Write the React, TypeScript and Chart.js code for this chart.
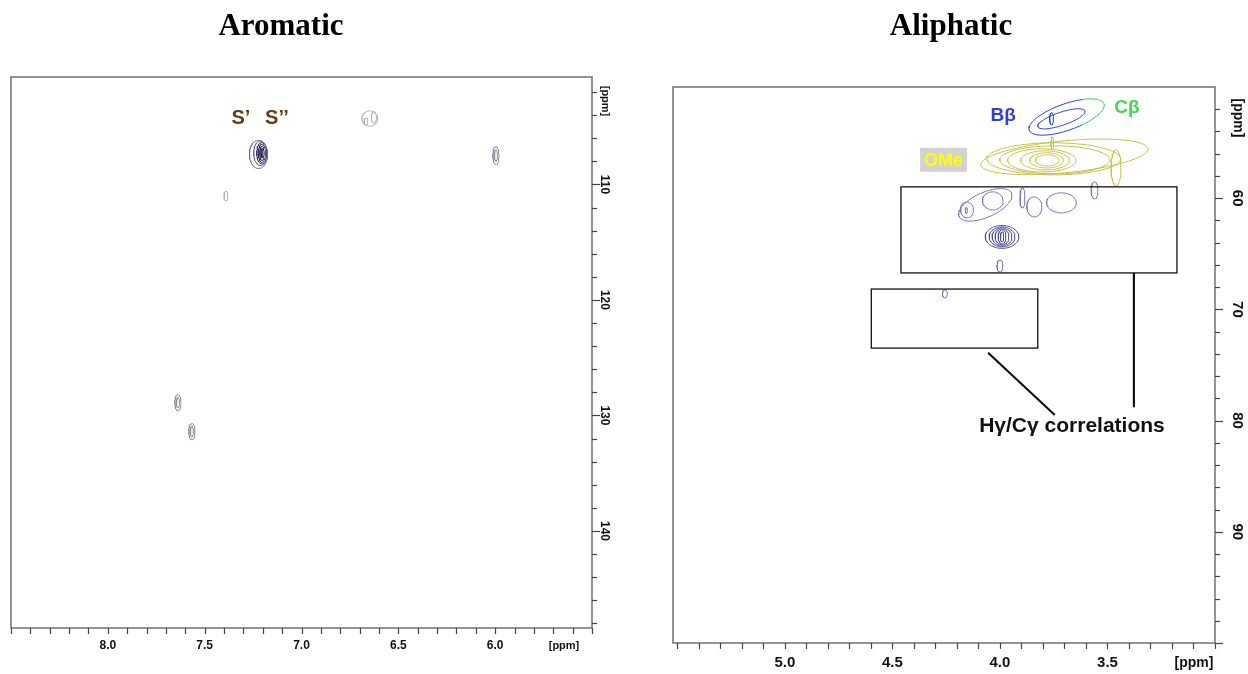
import React, { useEffect, useRef } from "react";
import { Chart, registerables } from "chart.js";

Chart.register(...registerables);

// A contour ring: [δH centre, δC centre, δH half-width, δC half-width, tilt (δC per δH)]
type Ring = [number, number, number, number, number];

// ---------- Aromatic region (δH 8.5–5.5, δC 100.7–148.4) ----------
const aromaticXRange = [5.5, 8.5];
const aromaticYRange = [100.7, 148.4];
const aromaticXLabels = [8.0, 7.5, 7.0, 6.5, 6.0];
const aromaticYLabels = [110, 120, 130, 140];

const syringylOuter: Ring[] = [
  [7.222, 107.4, 0.047, 1.22, 0],
  [7.212, 107.3, 0.035, 1.06, 0],
];
const syringylInner: Ring[] = [
  [7.205, 107.3, 0.026, 0.93, 0],
  [7.204, 107.3, 0.018, 0.79, 0],
  [7.204, 107.3, 0.011, 0.62, 0],
  [7.204, 107.3, 0.005, 0.4, 0],
];
const faintAromatic: Ring[] = [
  [6.647, 104.3, 0.041, 0.66, 0],
  [6.626, 104.2, 0.013, 0.5, 0],
  [6.667, 104.55, 0.01, 0.3, 0],
  [7.39, 111.0, 0.01, 0.43, 0],
];
const weakAromatic: Ring[] = [
  [5.996, 107.5, 0.016, 0.78, 0],
  [5.996, 107.5, 0.008, 0.5, 0],
  [7.638, 128.9, 0.016, 0.7, 0],
  [7.638, 128.9, 0.008, 0.45, 0],
  [7.566, 131.4, 0.016, 0.7, 0],
  [7.566, 131.4, 0.008, 0.45, 0],
];
const aromaticTags = [
  { text: "S\u2019", x: 7.313, y: 104.29 },
  { text: "S\u2019\u2019", x: 7.127, y: 104.29 },
];

// ---------- Aliphatic region (δH 5.52–3.0, δC 50–100) ----------
const aliphaticXRange = [3.0, 5.52];
const aliphaticYRange = [50, 100];
const aliphaticXLabels = [5.0, 4.5, 4.0, 3.5];
const aliphaticYLabels = [60, 70, 80, 90];

const betaOuter: Ring = [3.69, 52.7, 0.175, 1.25, 6.0];
const betaInner: Ring[] = [
  [3.714, 52.86, 0.11, 0.62, 6.0],
  [3.76, 52.86, 0.009, 0.54, 0],
];
const cBetaLimit = 3.63; // δH below which the β contour belongs to Cβ
const methoxyRings: Ring[] = [
  [3.7, 56.28, 0.389, 1.44, 1.8],
  [3.75, 56.46, 0.311, 1.44, 0],
  [3.745, 56.55, 0.256, 1.26, 0],
  [3.805, 56.6, 0.159, 1.04, 0],
  [3.79, 56.6, 0.113, 0.86, 0],
  [3.783, 56.6, 0.078, 0.68, 0],
  [3.78, 56.6, 0.055, 0.5, 0],
  [3.46, 57.27, 0.023, 1.62, 0],
  [3.757, 55.07, 0.006, 0.58, 0],
];
const gammaRings: Ring[] = [
  [4.068, 60.6, 0.124, 1.2, 6.75],
  [4.033, 60.24, 0.048, 0.81, 0],
  [4.153, 61.05, 0.03, 0.72, 0],
  [4.156, 61.1, 0.005, 0.27, 0],
  [3.895, 59.98, 0.0115, 0.9, 0],
  [3.84, 60.78, 0.035, 0.9, 0],
  [3.714, 60.42, 0.069, 0.9, 0],
  [3.56, 59.3, 0.016, 0.77, 0],
  [4.0, 66.1, 0.014, 0.54, 0],
  [4.256, 68.6, 0.0115, 0.36, 0],
];
const gammaCore: Ring[] = [
  [3.99, 63.48, 0.078, 1.03, 0],
  [3.99, 63.48, 0.06, 0.9, 0],
  [3.99, 63.48, 0.046, 0.81, 0],
  [3.99, 63.48, 0.032, 0.72, 0],
  [3.99, 63.48, 0.018, 0.63, 0],
  [3.99, 63.48, 0.008, 0.45, 0],
];
// Hγ/Cγ windows: [δH left, δH right, δC top, δC bottom]
const gammaBoxes = [
  [4.46, 3.177, 58.98, 66.72],
  [4.598, 3.824, 68.17, 73.48],
];
// Leader lines: [δH1, δC1, δH2, δC2]
const gammaLeaders = [
  [3.377, 66.72, 3.377, 78.8],
  [4.055, 73.9, 3.745, 79.5],
];
const aliphaticTags = [
  { text: "B\u03b2", x: 3.985, y: 52.59, color: "#2b3ee6" },
  { text: "C\u03b2", x: 3.41, y: 51.88, color: "#3ddc4c" },
];
const methoxyTag = { text: "OMe", x: 4.262, y: 56.55 };
const gammaTag = { text: "H\u03b3/C\u03b3 correlations", x: 3.665, y: 80.5 };

function ringPoints(r: Ring, n = 72) {
  const [cx, cy, rx, ry, k] = r;
  const pts: { x: number; y: number }[] = [];
  for (let i = 0; i <= n; i++) {
    const t = (i / n) * Math.PI * 2;
    const dx = rx * Math.cos(t);
    pts.push({ x: cx + dx, y: cy + ry * Math.sin(t) + k * dx });
  }
  return pts;
}

function ringSets(rings: Ring[], color: string, width = 1) {
  return rings.map((r) => ({
    data: ringPoints(r),
    borderColor: color,
    borderWidth: width,
    showLine: true,
    pointRadius: 0,
    fill: false,
    tension: 0,
  }));
}

type PanelOpts = {
  title: string;
  titleX: number;
  labelFont: string;
  unitFont: string;
  xLabels: number[];
  yLabels: number[];
  xStep: number;
  yStep: number;
  xLabelDy: number;
  yLabelDx: number;
  xUnit: { x: number; y: number };
  yUnit: { x: number; y: number };
  frameColor: string;
  extra?: (chart: any) => void;
};

function panelPlugin(o: PanelOpts) {
  return {
    id: "nmrPanel",
    afterDraw(chart: any) {
      const { ctx, chartArea: a } = chart;
      const xs = chart.scales.x;
      const ys = chart.scales.y;
      ctx.save();
      if (o.extra) o.extra(chart);

      // frame
      ctx.strokeStyle = o.frameColor;
      ctx.lineWidth = 1.4;
      ctx.strokeRect(a.left, a.top, a.right - a.left, a.bottom - a.top);

      // outward tick marks
      ctx.lineWidth = 1.2;
      ctx.strokeStyle = "#444";
      for (let i = Math.ceil(xs.min / o.xStep - 1e-6); i * o.xStep <= xs.max + 1e-6; i++) {
        const v = i * o.xStep;
        const px = Math.round(xs.getPixelForValue(v)) + 0.5;
        if (px < a.left - 1 || px > a.right + 1) continue;
        ctx.beginPath();
        ctx.moveTo(px, a.bottom);
        ctx.lineTo(px, a.bottom + 6);
        ctx.stroke();
      }
      for (let i = Math.ceil(ys.min / o.yStep - 1e-6); i * o.yStep <= ys.max + 1e-6; i++) {
        const v = i * o.yStep;
        const py = Math.round(ys.getPixelForValue(v)) + 0.5;
        if (py < a.top + 2 || py > a.bottom + 1) continue;
        const major = Math.abs(v % 10) < 1e-6;
        ctx.beginPath();
        ctx.moveTo(a.right, py);
        ctx.lineTo(a.right + (major ? 8 : 5), py);
        ctx.stroke();
      }

      // tick labels
      ctx.fillStyle = "#111";
      ctx.font = o.labelFont;
      ctx.textAlign = "center";
      ctx.textBaseline = "middle";
      o.xLabels.forEach((v) => {
        ctx.fillText(v.toFixed(1), xs.getPixelForValue(v), a.bottom + o.xLabelDy);
      });
      o.yLabels.forEach((v) => {
        ctx.save();
        ctx.translate(a.right + o.yLabelDx, ys.getPixelForValue(v));
        ctx.rotate(Math.PI / 2);
        ctx.fillText(String(v), 0, 0);
        ctx.restore();
      });
      ctx.font = o.unitFont;
      ctx.fillText("[ppm]", o.xUnit.x, o.xUnit.y);
      ctx.save();
      ctx.translate(o.yUnit.x, o.yUnit.y);
      ctx.rotate(Math.PI / 2);
      ctx.fillText("[ppm]", 0, 0);
      ctx.restore();

      // panel title
      ctx.font = 'bold 31px "Liberation Serif", "Times New Roman", serif';
      ctx.fillStyle = "#000";
      ctx.fillText(o.title, o.titleX, 27);
      ctx.restore();
    },
  };
}

function baseOptions(xr: number[], yr: number[], pad: any) {
  return {
    responsive: false,
    animation: false as const,
    events: [],
    layout: { padding: pad },
    plugins: { legend: { display: false }, tooltip: { enabled: false } },
    scales: {
      x: { type: "linear" as const, min: xr[0], max: xr[1], reverse: true, display: false },
      y: { type: "linear" as const, min: yr[0], max: yr[1], reverse: true, display: false },
    },
  };
}

const SANS = '"Liberation Sans", Arial, sans-serif';

export default function App() {
  const leftRef = useRef<HTMLCanvasElement>(null);
  const rightRef = useRef<HTMLCanvasElement>(null);

  useEffect(() => {
    const left = new Chart(leftRef.current!, {
      type: "scatter",
      data: {
        datasets: [
          ...ringSets(weakAromatic, "#8e8e9a"),
          ...ringSets(faintAromatic, "#b0b0b6"),
          ...ringSets(syringylOuter, "#6c6890"),
          ...ringSets(syringylInner, "#34305c"),
        ],
      },
      options: baseOptions(aromaticXRange, aromaticYRange, { left: 11, top: 77, right: 38, bottom: 46 }) as any,
      plugins: [
        panelPlugin({
          title: "Aromatic",
          titleX: 281,
          labelFont: `bold 12px ${SANS}`,
          unitFont: `bold 11px ${SANS}`,
          xLabels: aromaticXLabels,
          yLabels: aromaticYLabels,
          xStep: 0.1,
          yStep: 2,
          xLabelDy: 18,
          yLabelDx: 12,
          xUnit: { x: 564, y: 646 },
          yUnit: { x: 605, y: 101 },
          frameColor: "#666",
          extra: (chart: any) => {
            const { ctx } = chart;
            const xs = chart.scales.x, ys = chart.scales.y;
            ctx.font = `bold 20px ${SANS}`;
            ctx.fillStyle = "#653a12";
            ctx.textAlign = "center";
            ctx.textBaseline = "middle";
            aromaticTags.forEach((t) =>
              ctx.fillText(t.text, xs.getPixelForValue(t.x), ys.getPixelForValue(t.y))
            );
          },
        }),
      ],
    });

    const right = new Chart(rightRef.current!, {
      type: "scatter",
      data: {
        datasets: [
          ...ringSets(methoxyRings, "#c9c24a"),
          {
            data: ringPoints(betaOuter),
            borderColor: "#2840e0",
            borderWidth: 1,
            showLine: true,
            pointRadius: 0,
            fill: false,
            segment: {
              borderColor: (c: any) =>
                c.p0.parsed.x < cBetaLimit && c.p1.parsed.x < cBetaLimit ? "#3ccc50" : "#2840e0",
            },
          } as any,
          ...ringSets(betaInner, "#2840e0"),
          ...ringSets(gammaRings, "#7676bb"),
          ...ringSets(gammaCore, "#4c4c96"),
        ],
      },
      options: baseOptions(aliphaticXRange, aliphaticYRange, { left: 43, top: 87, right: 33, bottom: 31 }) as any,
      plugins: [
        panelPlugin({
          title: "Aliphatic",
          titleX: 321,
          labelFont: `bold 15px ${SANS}`,
          unitFont: `bold 14px ${SANS}`,
          xLabels: aliphaticXLabels,
          yLabels: aliphaticYLabels,
          xStep: 0.1,
          yStep: 2,
          xLabelDy: 20,
          yLabelDx: 22,
          xUnit: { x: 564, y: 663 },
          yUnit: { x: 608, y: 118 },
          frameColor: "#666",
          extra: (chart: any) => {
            const { ctx } = chart;
            const xs = chart.scales.x, ys = chart.scales.y;
            ctx.textAlign = "center";
            ctx.textBaseline = "middle";

            // Hγ/Cγ windows and leaders
            ctx.strokeStyle = "#111";
            ctx.lineWidth = 1.3;
            gammaBoxes.forEach(([x1, x2, y1, y2]) => {
              const l = xs.getPixelForValue(x1), r = xs.getPixelForValue(x2);
              const t = ys.getPixelForValue(y1), b = ys.getPixelForValue(y2);
              ctx.strokeRect(l, t, r - l, b - t);
            });
            ctx.lineWidth = 2.2;
            gammaLeaders.forEach(([x1, y1, x2, y2]) => {
              ctx.beginPath();
              ctx.moveTo(xs.getPixelForValue(x1), ys.getPixelForValue(y1));
              ctx.lineTo(xs.getPixelForValue(x2), ys.getPixelForValue(y2));
              ctx.stroke();
            });

            ctx.font = `bold 19px ${SANS}`;
            aliphaticTags.forEach((t) => {
              ctx.fillStyle = t.color;
              ctx.fillText(t.text, xs.getPixelForValue(t.x), ys.getPixelForValue(t.y));
            });

            ctx.font = `bold 18px ${SANS}`;
            const mx = xs.getPixelForValue(methoxyTag.x), my = ys.getPixelForValue(methoxyTag.y);
            const w = ctx.measureText(methoxyTag.text).width + 8;
            ctx.fillStyle = "#d2d2d2";
            ctx.fillRect(mx - w / 2, my - 12, w, 24);
            ctx.fillStyle = "#ffff00";
            ctx.fillText(methoxyTag.text, mx, my + 1);

            ctx.font = `bold 21px ${SANS}`;
            ctx.fillStyle = "#111";
            ctx.fillText(gammaTag.text, xs.getPixelForValue(gammaTag.x), ys.getPixelForValue(gammaTag.y));
          },
        }),
      ],
    });

    return () => {
      left.destroy();
      right.destroy();
    };
  }, []);

  return (
    <div style={{ position: "absolute", left: 0, top: 0, width: 1248, height: 674, background: "#fff" }}>
      <canvas
        ref={leftRef}
        width={630}
        height={674}
        style={{ position: "absolute", left: 0, top: 0, width: 630, height: 674 }}
      />
      <canvas
        ref={rightRef}
        width={618}
        height={674}
        style={{ position: "absolute", left: 630, top: 0, width: 618, height: 674 }}
      />
    </div>
  );
}
